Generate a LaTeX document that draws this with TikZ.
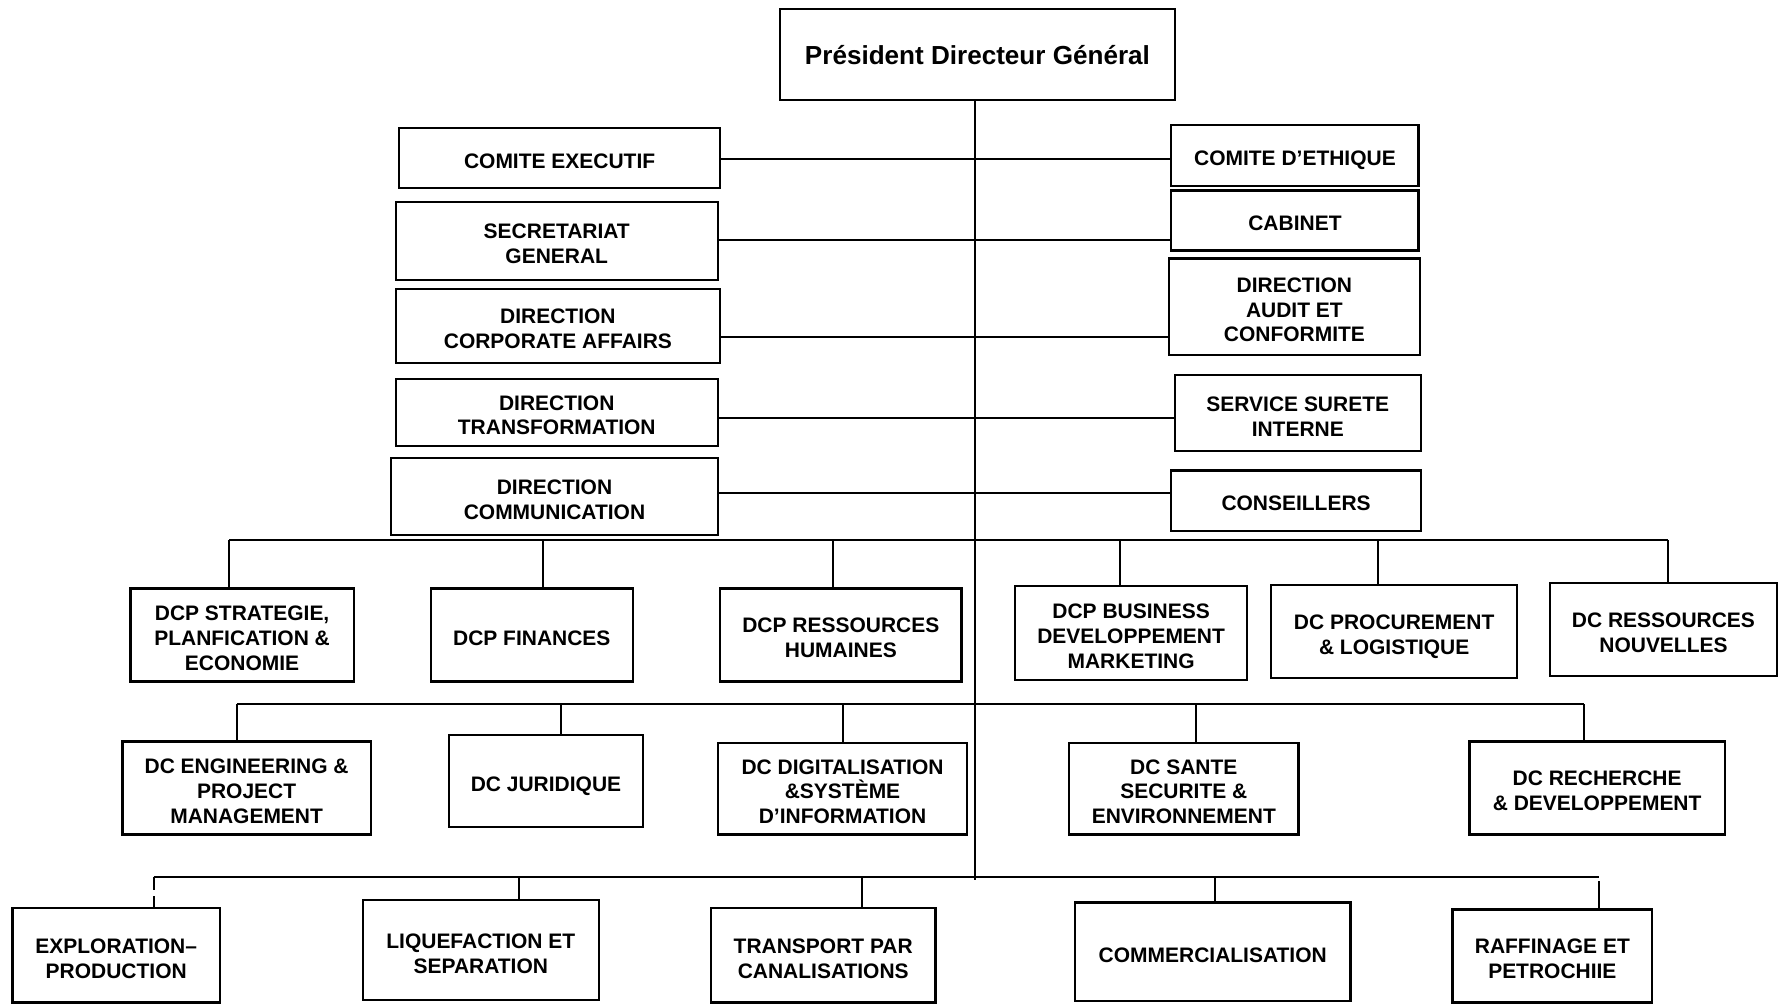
\documentclass[tikz,border=0pt]{standalone}
\usepackage{fontspec}
\setmainfont{Liberation Sans}
\begin{document}
\begin{tikzpicture}[x=1pt,y=-1pt,
  box/.style={draw, line width=2pt, inner sep=0pt, align=center, text depth=0pt,
    font=\bfseries\fontsize{18.5}{22}\selectfont},
  % label heights for one, two and three lines, putting the caps slightly below centre
  l1/.style={text height=18.2pt},
  l2/.style={text height=40.2pt},
  l3/.style={text height=62.2pt},
  link/.style={line width=1.8pt}]
\useasboundingbox (0,0) rectangle (1568,885);
\fill[white] (0,0) rectangle (1568,885);

% top of the chart
\node[box, text height=18.5pt, minimum width=348pt, minimum height=80pt, font=\bfseries\fontsize{23}{27}\selectfont]
  (pdg) at (862,48) {Président Directeur Général};

% staff units, left column
\node[box, l1, minimum width=283pt, minimum height=53pt] (ce)   at (493.5,139.5) {COMITE EXECUTIF};
\node[box, l2, minimum width=284pt, minimum height=69pt] (sg)   at (491,212.5)   {SECRETARIAT\\GENERAL};
\node[box, l2, minimum width=286pt, minimum height=65pt] (dca)  at (492,287.5)   {DIRECTION\\CORPORATE AFFAIRS};
\node[box, l2, minimum width=284pt, minimum height=59pt] (dtr)  at (491,363.5)   {DIRECTION\\TRANSFORMATION};
\node[box, l2, minimum width=288pt, minimum height=68pt] (dcom) at (489,438)     {DIRECTION\\COMMUNICATION};

% staff units, right column
\node[box, l1, minimum width=218pt, minimum height=54pt] (ceth) at (1142,137)    {COMITE D’ETHIQUE};
\node[box, l1, minimum width=218pt, minimum height=53pt] (cab)  at (1142,194.5)  {CABINET};
\node[box, l3, minimum width=221pt, minimum height=85pt] (dac)  at (1141.5,270.5){DIRECTION\\AUDIT ET\\CONFORMITE};
\node[box, l2, minimum width=217pt, minimum height=67pt] (sur)  at (1144.5,364.5){SERVICE SURETE\\INTERNE};
\node[box, l1, minimum width=220pt, minimum height=53pt] (cons) at (1143,441.5)  {CONSEILLERS};

% first row of directions
\node[box, l3, minimum width=197pt, minimum height=82pt] (strat) at (213.5,560)  {DCP STRATEGIE,\\PLANFICATION \&\\ECONOMIE};
\node[box, l1, minimum width=178pt, minimum height=82pt] (fin)   at (469,560)    {DCP FINANCES};
\node[box, l2, minimum width=213pt, minimum height=82pt] (rh)    at (741.5,560)  {DCP RESSOURCES\\HUMAINES};
\node[box, l3, minimum width=205pt, minimum height=83pt] (bdm)   at (997.5,558.5){DCP BUSINESS\\DEVELOPPEMENT\\MARKETING};
\node[box, l2, minimum width=217pt, minimum height=82pt] (proc)  at (1229.5,557) {DC PROCUREMENT\\\& LOGISTIQUE};
\node[box, l2, minimum width=200pt, minimum height=82pt] (rn)    at (1467,555)   {DC RESSOURCES\\NOUVELLES};

% second row of directions
\node[box, l3, minimum width=219pt, minimum height=82pt] (eng) at (217.5,695)  {DC ENGINEERING \&\\PROJECT\\MANAGEMENT};
\node[box, l1, minimum width=171pt, minimum height=81pt] (jur) at (481.5,688.5){DC JURIDIQUE};
\node[box, l3, minimum width=220pt, minimum height=81pt] (dig) at (743,695.5)  {DC DIGITALISATION\\\&SYSTÈME\\D’INFORMATION};
\node[box, l3, minimum width=202pt, minimum height=81pt] (san) at (1044,695.5) {DC SANTE\\SECURITE \&\\ENVIRONNEMENT};
\node[box, l2, minimum width=225pt, minimum height=82pt] (rec) at (1408.5,695) {DC RECHERCHE\\\& DEVELOPPEMENT};

% operating activities
\node[box, l2, minimum width=183pt, minimum height=83pt] (exp) at (102.5,842.5) {EXPLORATION–\\PRODUCTION};
\node[box, l2, minimum width=208pt, minimum height=88pt] (liq) at (424,838)     {LIQUEFACTION ET\\SEPARATION};
\node[box, l2, minimum width=198pt, minimum height=83pt] (tra) at (726,842.5)   {TRANSPORT PAR\\CANALISATIONS};
\node[box, l1, minimum width=243pt, minimum height=87pt] (com) at (1069.5,839.5){COMMERCIALISATION};
\node[box, l2, minimum width=176pt, minimum height=82pt] (raf) at (1369,843)    {RAFFINAGE ET\\PETROCHIIE};

% main trunk
\coordinate (trunkend) at (859.5,776);
\draw[link] (pdg.south -| trunkend) -- (trunkend);

% staff links across the trunk
\draw[link] (ce.east  |- 0,140)   -- (ceth.west |- 0,140);
\draw[link] (sg.east  |- 0,212)   -- (cab.west  |- 0,212);
\draw[link] (dca.east |- 0,297.5) -- (dac.west  |- 0,297.5);
\draw[link] (dtr.east |- 0,369)   -- (sur.west  |- 0,369);
\draw[link] (dcom.east|- 0,434.5) -- (cons.west |- 0,434.5);

% first bus
\coordinate (a1) at (202,476.5);  \coordinate (a2) at (479,476.5);
\coordinate (a3) at (735,476.5);  \coordinate (a4) at (988,476.5);
\coordinate (a5) at (1215,476.5); \coordinate (a6) at (1471,476.5);
\draw[link] (a1) -- (a6);
\draw[link] (a1) -- (a1 |- strat.north);
\draw[link] (a2) -- (a2 |- fin.north);
\draw[link] (a3) -- (a3 |- rh.north);
\draw[link] (a4) -- (a4 |- bdm.north);
\draw[link] (a5) -- (a5 |- proc.north);
\draw[link] (a6) -- (a6 |- rn.north);

% second bus
\coordinate (b1) at (209,621);   \coordinate (b2) at (494.5,621);
\coordinate (b3) at (743,621);   \coordinate (b4) at (1055,621);
\coordinate (b5) at (1397,621);
\draw[link] (b1) -- (b5);
\draw[link] (b1) -- (b1 |- eng.north);
\draw[link] (b2) -- (b2 |- jur.north);
\draw[link] (b3) -- (b3 |- dig.north);
\draw[link] (b4) -- (b4 |- san.north);
\draw[link] (b5) -- (b5 |- rec.north);

% third bus
\coordinate (c1) at (135.5,773.5); \coordinate (c2) at (458,773.5);
\coordinate (c3) at (760,773.5);   \coordinate (c4) at (1071.5,773.5);
\coordinate (c5) at (1410,773.5);  \coordinate (c5b) at (1410,777);
\draw[link] (c1) -- (c5);
\draw[link, dash pattern=on 11pt off 6pt] (c1) -- (c1 |- exp.north);
\draw[link] (c2) -- (c2 |- liq.north);
\draw[link] (c3) -- (c3 |- tra.north);
\draw[link] (c4) -- (c4 |- com.north);
\draw[link] (c5b) -- (c5b |- raf.north);
\end{tikzpicture}
\end{document}
